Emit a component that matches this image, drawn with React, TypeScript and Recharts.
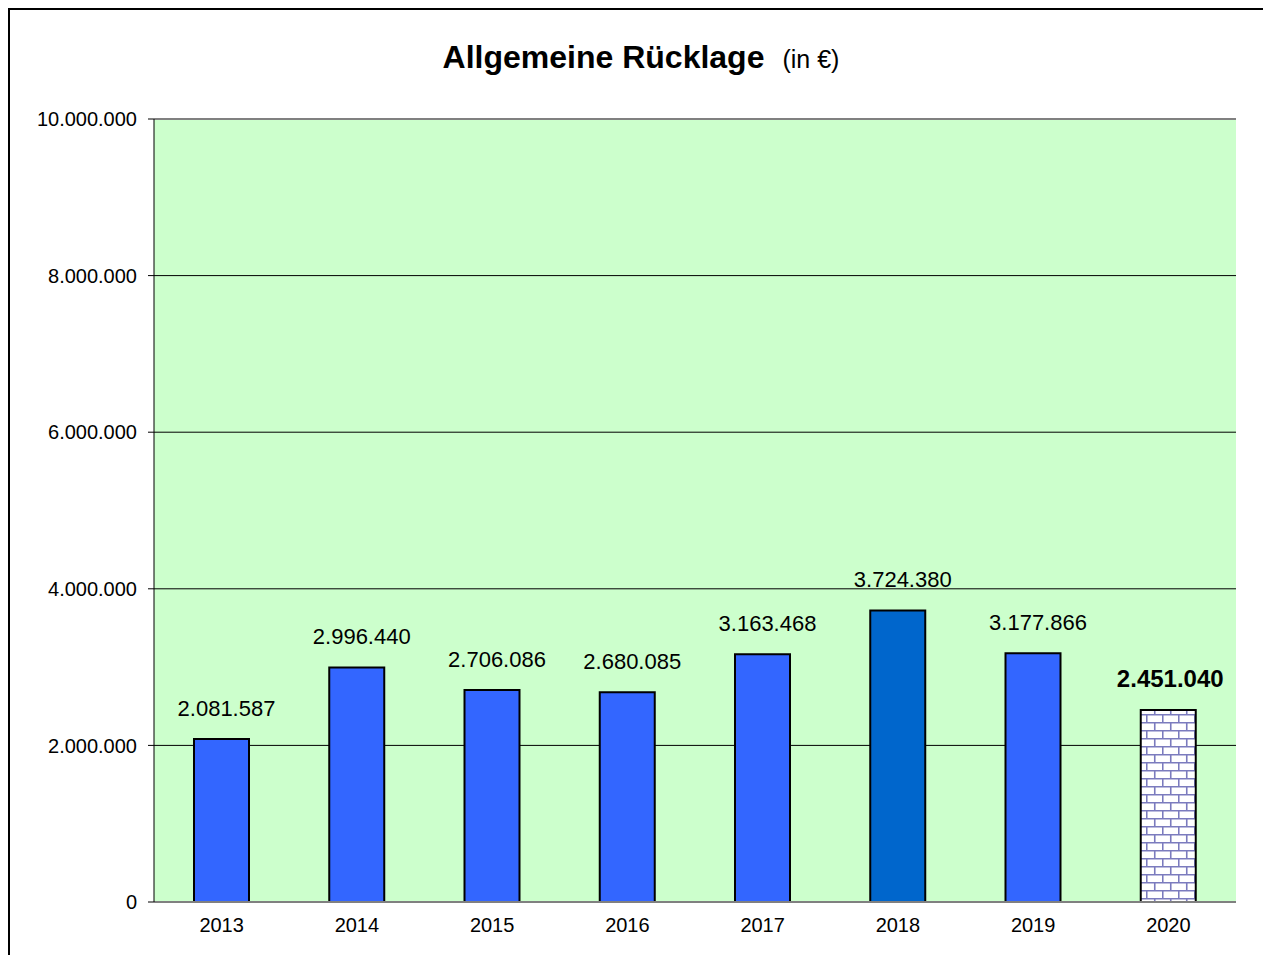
import { BarChart, Bar, XAxis, YAxis, CartesianGrid, Cell, LabelList, ReferenceLine } from "recharts";

const years = ["2013", "2014", "2015", "2016", "2017", "2018", "2019", "2020"];
const reserve = [2081587, 2996440, 2706086, 2680085, 3163468, 3724380, 3177866, 2451040];
const yTicks = [0, 2000000, 4000000, 6000000, 8000000, 10000000];

const data = years.map((year, i) => ({ year, value: reserve[i] }));

const FONT = "'Liberation Sans', Arial, sans-serif";

// deutsche Tausenderpunkte
const fmt = (n: number) => String(n).replace(/\B(?=(\d{3})+(?!\d))/g, ".");

const barFill = (year: string) => {
  if (year === "2018") return "#0066CC";
  if (year === "2020") return "url(#brick)";
  return "#3366FF";
};

const renderValue = (props: any) => {
  const { x, y, width, value, index } = props;
  const last = index === years.length - 1;
  return (
    <text
      x={Number(x) + Number(width) / 2 + (last ? 2 : 5)}
      y={Number(y) - 23}
      textAnchor="middle"
      fontFamily={FONT}
      fontSize={last ? 24 : 22}
      fontWeight={last ? "bold" : "normal"}
      fill="#000"
    >
      {fmt(Number(value))}
    </text>
  );
};

export default function App() {
  return (
    <div
      style={{
        position: "relative",
        width: 1263,
        height: 947,
        boxSizing: "border-box",
        borderLeft: "2px solid #000",
        borderTop: "2px solid #000",
        background: "#fff",
      }}
    >
      <style>{"html,body{overflow:hidden}"}</style>
      <BarChart
        width={1261}
        height={937}
        data={data}
        margin={{ top: 109, right: 35, left: 0, bottom: 15 }}
        barCategoryGap={0}
      >
        <defs>
          <pattern id="brick" width={16} height={16} patternUnits="userSpaceOnUse">
            <rect width={16} height={16} fill="#fff" />
            <path
              d="M0 0.75H16M0 8.75H16M0.75 0V8M8.75 8V16"
              stroke="#7B7BBE"
              strokeWidth={1.6}
            />
          </pattern>
        </defs>
        <text x={631} y={58} textAnchor="middle" fontFamily={FONT} fill="#000">
          <tspan fontSize={32} fontWeight="bold">Allgemeine Rücklage</tspan>
          <tspan fontSize={25} dx={18}>(in €)</tspan>
        </text>
        <CartesianGrid vertical={false} stroke="#000" fill="#CCFFCC" fillOpacity={1} />
        <XAxis
          dataKey="year"
          tickLine={false}
          tickSize={6}
          tickMargin={10}
          axisLine={{ stroke: "#808080", strokeWidth: 2 }}
          tick={{ fill: "#000", fontSize: 20, fontFamily: FONT }}
          height={30}
        />
        <YAxis
          domain={[0, 10000000]}
          ticks={yTicks}
          tickFormatter={fmt}
          width={144}
          tickSize={6}
          tickMargin={11}
          axisLine={{ stroke: "#000" }}
          tickLine={{ stroke: "#000" }}
          tick={{ fill: "#000", fontSize: 20, fontFamily: FONT }}
          interval={0}
        />
        <YAxis
          yAxisId="frame"
          orientation="right"
          domain={[0, 10000000]}
          width={0}
          tick={false}
          tickLine={false}
          axisLine={{ stroke: "#808080", strokeWidth: 2 }}
        />
        <ReferenceLine y={10000000} stroke="#808080" strokeWidth={2} />
        <Bar dataKey="value" barSize={55} stroke="#000" strokeWidth={2} isAnimationActive={false}>
          {data.map((d) => (
            <Cell key={d.year} fill={barFill(d.year)} />
          ))}
          <LabelList dataKey="value" content={renderValue} />
        </Bar>
      </BarChart>
    </div>
  );
}
